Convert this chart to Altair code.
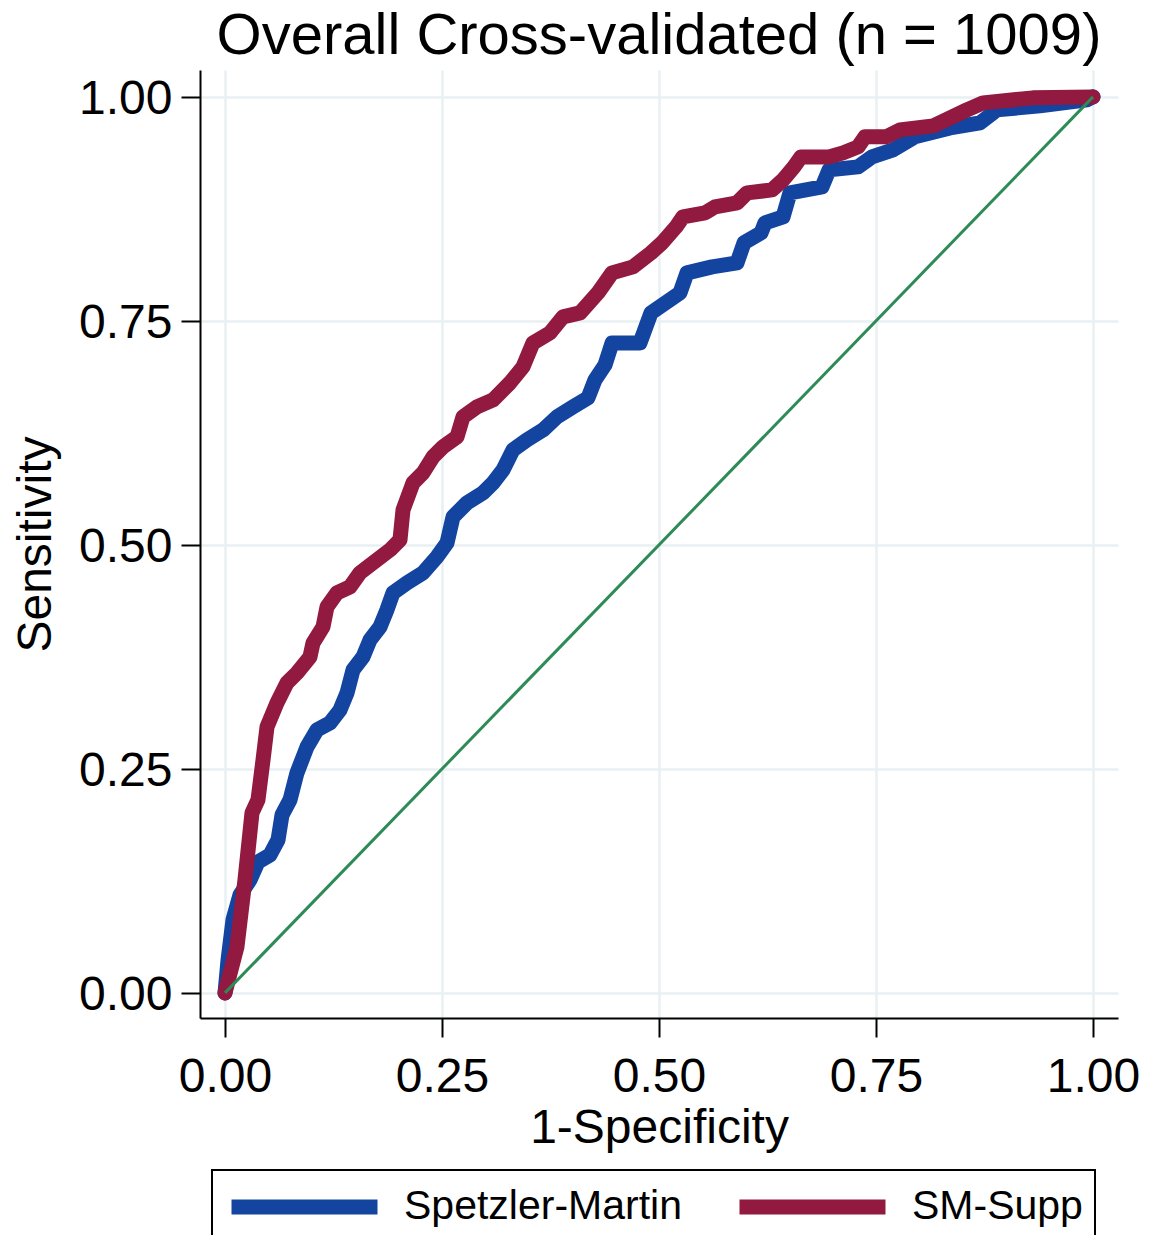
import altair as alt
import pandas as pd

title_text = "Overall Cross-validated (n = 1009)"
series_names = ["Spetzler-Martin", "SM-Supp"]
series_colors = ["#1244A0", "#921A40"]
ref_color = "#2E8B57"
tick_values = [0.0, 0.25, 0.5, 0.75, 1.0]
x_title = "1-Specificity"
y_title = "Sensitivity"

sm_fpr = [0, .0035, .0092, .0173, .0288, .0380, .0518, .0611, .0657, .0749, .0829, .0945, .1060,
          .1210, .1325, .1406, .1475, .1590, .1671, .1786, .1866, .1935, .2097, .2281, .2442, .2558,
          .2627, .2788, .2972, .3088, .3203, .3318, .3479, .3664, .3825, .4009, .4182, .4263, .4378,
          .4459, .4781, .4908, .5242, .5323, .5611, .5899, .5979, .6175, .6221, .6429, .6509, .6878,
          .6959, .7293, .7454, .7696, .7949, .8353, .8698, .8894, .9389, .9931, 1.0]
sm_sens = [0, .0368, .0815, .1094, .1261, .1462, .1540, .1708, .1987, .2154, .2455, .2746, .2935,
           .3013, .3158, .3348, .3605, .3750, .3940, .4085, .4275, .4464, .4576, .4688, .4866, .5022,
           .5313, .5469, .5580, .5692, .5837, .6060, .6172, .6283, .6429, .6540, .6641, .6842, .7009,
           .7254, .7254, .7589, .7813, .8036, .8103, .8147, .8371, .8482, .8594, .8661, .8929, .8996,
           .9185, .9219, .9330, .9408, .9554, .9654, .9710, .9855, .9900, .9967, 1.0]

supp_fpr = [0, .0138, .0230, .0311, .0380, .0438, .0484, .0599, .0714, .0829, .0979, .1014, .1129,
            .1175, .1290, .1440, .1555, .1705, .1901, .2016, .2051, .2166, .2281, .2396, .2512, .2673,
            .2742, .2903, .3088, .3283, .3433, .3548, .3744, .3894, .4090, .4297, .4459, .4700, .4908,
            .5035, .5196, .5276, .5530, .5645, .5899, .6014, .6302, .6429, .6555, .6636, .6959, .7120,
            .7293, .7373, .7615, .7776, .8157, .8548, .8733, .9309, 1.0]
supp_sens = [0, .0513, .1261, .2009, .2154, .2600, .2969, .3237, .3460, .3571, .3750, .3906, .4085,
             .4308, .4464, .4531, .4688, .4799, .4944, .5056, .5391, .5692, .5804, .5982, .6094, .6205,
             .6429, .6540, .6618, .6808, .6987, .7254, .7366, .7545, .7589, .7813, .8036, .8103, .8259,
             .8371, .8549, .8661, .8705, .8772, .8817, .8929, .8962, .9074, .9219, .9330, .9330, .9375,
             .9442, .9554, .9554, .9632, .9676, .9855, .9933, .9989, 1.0]

ref_fpr = [0.0, 1.0]
ref_sens = [0.0, 1.0]

FONT = "Liberation Sans"

sm_df = pd.DataFrame({"fpr": sm_fpr, "sens": sm_sens, "idx": range(len(sm_fpr)),
                      "model": series_names[0]})
supp_df = pd.DataFrame({"fpr": supp_fpr, "sens": supp_sens, "idx": range(len(supp_fpr)),
                        "model": series_names[1]})
ref_df = pd.DataFrame({"fpr": ref_fpr, "sens": ref_sens, "idx": range(len(ref_fpr))})

x_enc = alt.X("fpr:Q", scale=alt.Scale(domain=[-0.0288, 1.0288], nice=False, zero=False),
              axis=alt.Axis(values=tick_values, format=".2f", title=x_title,
                            labelBaseline="alphabetic", labelPadding=54,
                            titleY=124, titleBaseline="alphabetic"))
y_enc = alt.Y("sens:Q", scale=alt.Scale(domain=[-0.028, 1.03], nice=False, zero=False),
              axis=alt.Axis(values=tick_values, format=".2f", title=y_title,
                            labelPadding=9, labelOffset=3,
                            titleX=-150, titleBaseline="alphabetic"))

color_enc = alt.Color("model:N",
                      scale=alt.Scale(domain=series_names, range=series_colors),
                      legend=alt.Legend(title=None, orient="none", legendX=12, legendY=1100,
                                        direction="horizontal", columns=2,
                                        symbolType="stroke", symbolSize=21316,
                                        symbolStrokeWidth=15, clipHeight=50,
                                        padding=12, strokeColor="black",
                                        labelFont=FONT, labelFontSize=41, labelColor="black",
                                        labelLimit=500, labelOffset=19, columnPadding=50))

line_props = dict(strokeWidth=15, strokeCap="round", strokeJoin="round")

sm_line = alt.Chart(sm_df).mark_line(**line_props).encode(
    x=x_enc, y=y_enc, color=color_enc, order="idx:Q")
supp_line = alt.Chart(supp_df).mark_line(**line_props).encode(
    x=x_enc, y=y_enc, color=color_enc, order="idx:Q")
ref_line = alt.Chart(ref_df).mark_line(strokeWidth=3, color=ref_color).encode(
    x=x_enc, y=y_enc, order="idx:Q")

chart = alt.layer(sm_line, supp_line, ref_line).properties(
    width=918, height=948,
    autosize=alt.AutoSizeParams(type="none"),
    padding={"left": 192, "top": 62, "right": 29, "bottom": 217},
    title=alt.TitleParams(text=title_text, font=FONT, fontSize=58, fontWeight="normal",
                          color="black", anchor="middle", offset=4),
).configure_view(strokeWidth=0).configure_axis(
    labelFont=FONT, labelFontSize=48, labelColor="black",
    titleFont=FONT, titleFontSize=48, titleFontWeight="normal", titleColor="black",
    domainColor="black", domainWidth=2, tickColor="black", tickWidth=2, tickSize=19,
    gridColor="#E8F0F3", gridWidth=2.5,
).configure_legend(strokeWidth=2)

chart.save("out.html", embed_options={"renderer": "svg", "actions": False})
